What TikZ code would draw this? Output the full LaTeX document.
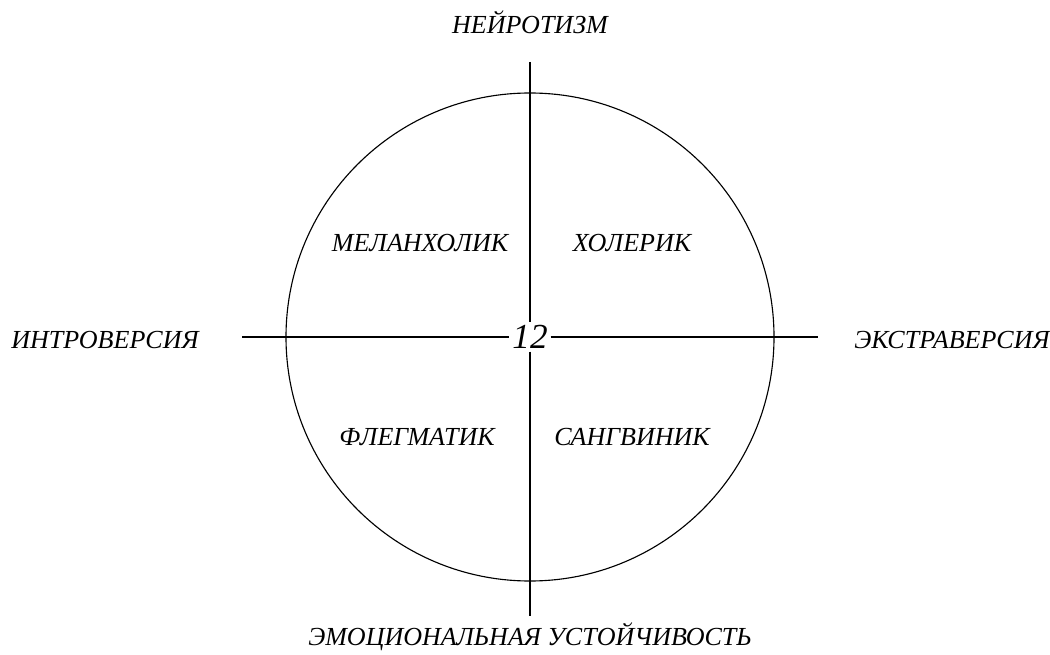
\documentclass[tikz,border=0pt]{standalone}
\usepackage{fontspec}
\setmainfont{Liberation Serif}
\usetikzlibrary{positioning}

\begin{document}
\begin{tikzpicture}[x=0.025cm,y=-0.025cm,
    lbl/.style={font=\fontsize{18.5}{21}\selectfont\itshape,inner sep=0pt},
    ax/.style={line width=0.8pt}]
  \useasboundingbox (0,0) rectangle (1050,655);
  % axes
  \coordinate (c) at (530,337);
  \coordinate (top) at (530,62);
  \coordinate (bot) at (530,616);
  \coordinate (lft) at (242,337);
  \coordinate (rgt) at (818,337);
  \node[lbl,font=\fontsize{25}{28}\selectfont\itshape,fill=white,inner sep=2pt] (mid) at (c) {12};
  \draw[ax] (c) circle[radius=244];
  \draw[ax] (top) -- (mid.north);
  \draw[ax] (mid.south) -- (bot);
  \draw[ax] (lft) -- (mid.west);
  \draw[ax] (mid.east) -- (rgt);
  % axis labels
  \node[lbl] (neu) at (530,22) {НЕЙРОТИЗМ};
  \node[lbl] (emo) at (530,637) {ЭМОЦИОНАЛЬНАЯ УСТОЙЧИВОСТЬ};
  \node[lbl] (intro) at (105,340) {ИНТРОВЕРСИЯ};
  \node[lbl] (extra) at (952,340) {ЭКСТРАВЕРСИЯ};
  % temperaments
  \node[lbl] (mel) at (420,243) {МЕЛАНХОЛИК};
  \node[lbl] (hol) at (632,243) {ХОЛЕРИК};
  \node[lbl] (fle) at (417,437) {ФЛЕГМАТИК};
  \node[lbl] (san) at (632,437) {САНГВИНИК};
\end{tikzpicture}
\end{document}
